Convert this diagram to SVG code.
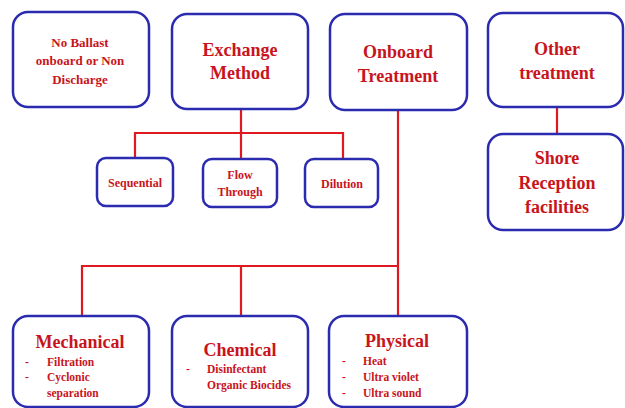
<svg xmlns="http://www.w3.org/2000/svg" width="625" height="408" viewBox="0 0 625 408">
<style>
.box{fill:#fff;stroke:#2b2bb0;stroke-width:2.5}
.ln{fill:none;stroke:#e01820;stroke-width:2.2}
text{font-family:"Liberation Serif","Times New Roman",serif;font-weight:bold;fill:#c8141c}
.c{text-anchor:middle}
.t18{font-size:18px}
.t13{font-size:13px}
.t12{font-size:12px}
.t11{font-size:11.5px}
</style>
<rect width="625" height="408" fill="#fff"/>
<g id="connectors">
<path class="ln" d="M241 109V133M135 158V133H343V159M241 133V159"/>
<path class="ln" d="M398 110V266M82 316V266H398V316M241 266V316"/>
<path class="ln" d="M557 107V133"/>
</g>
<g id="no-ballast">
<rect class="box" x="13" y="12" width="136" height="95" rx="15"/>
<text class="c t13" x="80" y="47">No Ballast</text>
<text class="c t13" x="80" y="65">onboard or Non</text>
<text class="c t13" x="80" y="84">Discharge</text>
</g>
<g id="exchange">
<rect class="box" x="172" y="14" width="136" height="95" rx="15"/>
<text class="c t18" x="240" y="56">Exchange</text>
<text class="c t18" x="240" y="79">Method</text>
</g>
<g id="onboard">
<rect class="box" x="330" y="14" width="137" height="96" rx="15"/>
<text class="c t18" x="398" y="58">Onboard</text>
<text class="c t18" x="398" y="82">Treatment</text>
</g>
<g id="other">
<rect class="box" x="488" y="13" width="135" height="94" rx="15"/>
<text class="c t18" x="557" y="55">Other</text>
<text class="c t18" x="557" y="79">treatment</text>
</g>
<g id="shore">
<rect class="box" x="488" y="134" width="135" height="96" rx="15"/>
<text class="c t18" x="557" y="164">Shore</text>
<text class="c t18" x="557" y="189">Reception</text>
<text class="c t18" x="557" y="213">facilities</text>
</g>
<g id="sequential">
<rect class="box" x="97" y="158" width="76" height="48" rx="9"/>
<text class="c t12" x="135" y="187">Sequential</text>
</g>
<g id="flow-through">
<rect class="box" x="203" y="159" width="74" height="48" rx="9"/>
<text class="c t12" x="240" y="179">Flow</text>
<text class="c t12" x="240" y="196">Through</text>
</g>
<g id="dilution">
<rect class="box" x="305" y="159" width="73" height="48" rx="9"/>
<text class="c t12" x="342" y="188">Dilution</text>
</g>
<g id="mechanical">
<rect class="box" x="13" y="316" width="136" height="91" rx="15"/>
<text class="c t18" x="80" y="348">Mechanical</text>
<text class="t11" x="25" y="366">-</text>
<text class="t11" x="47" y="366">Filtration</text>
<text class="t11" x="25" y="381">-</text>
<text class="t11" x="47" y="381">Cyclonic</text>
<text class="t11" x="47" y="397">separation</text>
</g>
<g id="chemical">
<rect class="box" x="172" y="316" width="136" height="91" rx="15"/>
<text class="c t18" x="240" y="356">Chemical</text>
<text class="t11" x="186" y="373">-</text>
<text class="t11" x="207" y="373">Disinfectant</text>
<text class="t11" x="207" y="389">Organic  Biocides</text>
</g>
<g id="physical">
<rect class="box" x="329" y="316" width="138" height="91" rx="15"/>
<text class="c t18" x="397" y="347">Physical</text>
<text class="t11" x="342" y="365">-</text>
<text class="t11" x="363" y="365">Heat</text>
<text class="t11" x="342" y="381">-</text>
<text class="t11" x="363" y="381">Ultra violet</text>
<text class="t11" x="342" y="397">-</text>
<text class="t11" x="363" y="397">Ultra sound</text>
</g>
</svg>
